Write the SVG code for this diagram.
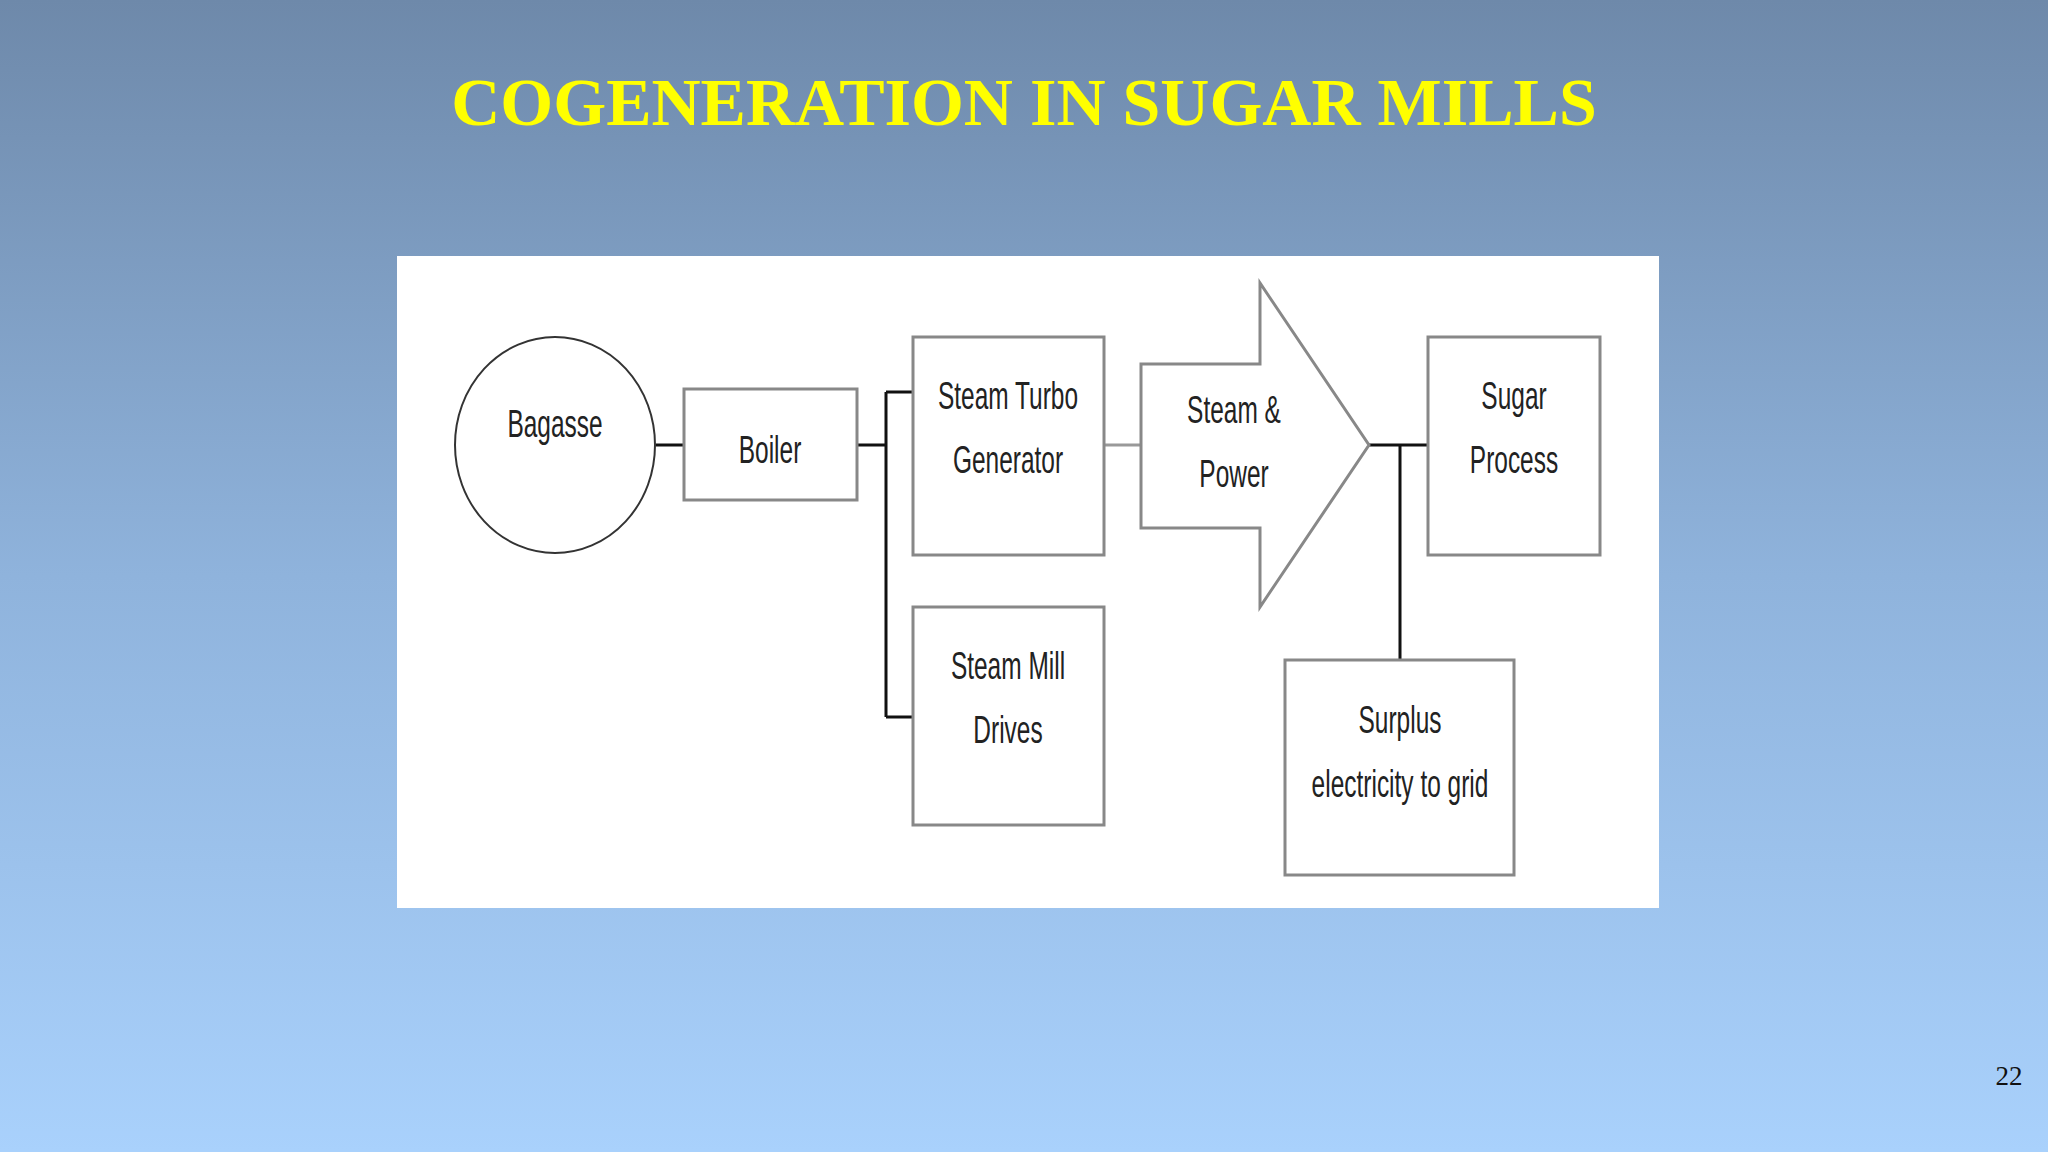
<svg xmlns="http://www.w3.org/2000/svg" width="2048" height="1152" viewBox="0 0 2048 1152">
<defs>
<linearGradient id="bg" x1="0" y1="0" x2="0" y2="1">
<stop offset="0" stop-color="#6e89aa"/><stop offset="0.5" stop-color="#8fb3dc"/><stop offset="1" stop-color="#a9d1fc"/>
</linearGradient>
<style>
.box{fill:#fff;stroke:#888;stroke-width:3}
.t{font-family:"Liberation Sans",Arial,sans-serif;font-size:34px;fill:#222;text-anchor:middle}
.ln{stroke:#111;stroke-width:3;fill:none}
</style>
</defs>
<rect width="2048" height="1152" fill="url(#bg)"/>
<text x="1024" y="125" font-family="Liberation Serif,serif" font-weight="bold" font-size="68" fill="#ffff00" text-anchor="middle">COGENERATION IN SUGAR MILLS</text>
<rect x="397" y="256" width="1262" height="652" fill="#fff"/>
<g id="connectors">
<path class="ln" d="M656 445H684M857 445H886M886 392V717M886 392H913M886 717H913M1369 445H1428M1400 445V660"/>
<path d="M1104 445H1141" stroke="#999" stroke-width="3"/>
</g>
<g id="bagasse"><ellipse cx="555" cy="445" rx="100" ry="108" fill="#fff" stroke="#333" stroke-width="2"/><text class="t" transform="translate(555,437) scale(0.72,1.15)">Bagasse</text></g>
<g id="boiler"><rect class="box" x="684" y="389" width="173" height="111"/><text class="t" transform="translate(770,463) scale(0.72,1.15)">Boiler</text></g>
<g id="stg"><rect class="box" x="913" y="337" width="191" height="218"/><text class="t" transform="translate(1008,409) scale(0.72,1.15)">Steam Turbo</text><text class="t" transform="translate(1008,473) scale(0.72,1.15)">Generator</text></g>
<g id="smd"><rect class="box" x="913" y="607" width="191" height="218"/><text class="t" transform="translate(1008,679) scale(0.72,1.15)">Steam Mill</text><text class="t" transform="translate(1008,743) scale(0.72,1.15)">Drives</text></g>
<g id="arrow"><path class="box" d="M1141 364H1260V283L1369 445L1260 607V528H1141Z"/><text class="t" transform="translate(1234,423) scale(0.72,1.15)">Steam &amp;</text><text class="t" transform="translate(1234,487) scale(0.72,1.15)">Power</text></g>
<g id="sugar"><rect class="box" x="1428" y="337" width="172" height="218"/><text class="t" transform="translate(1514,409) scale(0.72,1.15)">Sugar</text><text class="t" transform="translate(1514,473) scale(0.72,1.15)">Process</text></g>
<g id="surplus"><rect class="box" x="1285" y="660" width="229" height="215"/><text class="t" transform="translate(1400,733) scale(0.72,1.15)">Surplus</text><text class="t" transform="translate(1400,797) scale(0.72,1.15)">electricity to grid</text></g>
<text x="2009" y="1085" font-family="Liberation Serif,serif" font-size="27" fill="#111" text-anchor="middle">22</text>
</svg>
